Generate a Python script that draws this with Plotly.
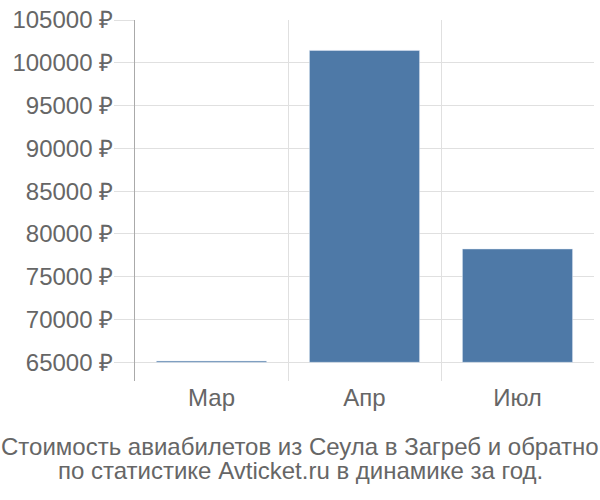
import plotly.graph_objects as go

months = ["Мар", "Апр", "Июл"]
prices = [65150, 101450, 78250]
y_ticks = [65000, 70000, 75000, 80000, 85000, 90000, 95000, 100000, 105000]
y_labels = [f"{v} ₽" for v in y_ticks]
base_price = 65000
title_lines = [
    "Стоимость авиабилетов из Сеула в Загреб и обратно",
    "по статистике Avticket.ru в динамике за год.",
]

fig = go.Figure()
fig.add_bar(
    x=months,
    y=[p - base_price for p in prices],
    base=base_price,
    marker_color="#4e79a7",
    width=0.72,
)

fig.update_layout(
    width=600,
    height=500,
    margin=dict(l=135, r=6, t=14, b=119),
    plot_bgcolor="white",
    paper_bgcolor="white",
    font=dict(family="Liberation Sans, Arial, sans-serif", size=24, color="#666"),
    showlegend=False,
)
fig.update_xaxes(
    tickson="boundaries",
    showgrid=True,
    gridcolor="#e0e0e0",
    gridwidth=1,
    ticks="",
    showline=False,
)
fig.update_yaxes(
    range=[62820, 105000],
    tickvals=y_ticks,
    ticktext=y_labels,
    showgrid=True,
    gridcolor="#e0e0e0",
    ticks="outside",
    ticklen=20,
    tickcolor="#e0e0e0",
    ticklabelstandoff=-4,
    ticklabeloverflow="allow",
    showline=True,
    linecolor="#aaa",
    linewidth=1,
    zeroline=False,
)

for i, line in enumerate(title_lines):
    fig.add_annotation(
        text=line,
        xref="paper", yref="paper",
        x=(300 - 135) / 459, y=0,
        xanchor="center", yanchor="middle",
        yshift=-65 - 24.5 * i,
        showarrow=False,
        borderpad=0,
        font=dict(size=24, color="#666"),
    )

# drop the default body margin so the figure fills the window
fig.write_html(
    "out.html",
    config={"displayModeBar": False},
    post_script="document.body.style.margin='0';",
)
